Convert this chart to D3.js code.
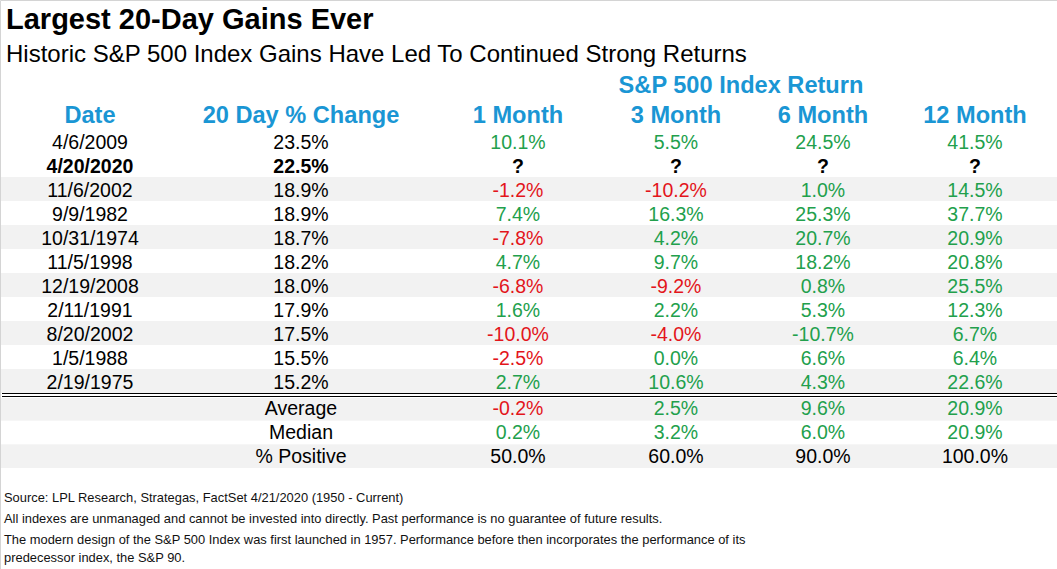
<!DOCTYPE html>
<html>
<head>
<meta charset="utf-8">
<script src="https://cdn.jsdelivr.net/npm/d3@7"></script>
<style>
  html, body { margin: 0; padding: 0; background: #fff; }
  svg { display: block; font-family: "Liberation Sans", Arial, sans-serif; }
</style>
</head>
<body>
<div id="chart"></div>
<script>
var dates    = ['4/6/2009', '4/20/2020', '11/6/2002', '9/9/1982', '10/31/1974', '11/5/1998',
                '12/19/2008', '2/11/1991', '8/20/2002', '1/5/1988', '2/19/1975'];
var change20 = [23.5, 22.5, 18.9, 18.9, 18.7, 18.2, 18.0, 17.9, 17.5, 15.5, 15.2];
var ret1m    = [10.1, null, -1.2, 7.4, -7.8, 4.7, -6.8, 1.6, -10.0, -2.5, 2.7];
var ret3m    = [5.5, null, -10.2, 16.3, 4.2, 9.7, -9.2, 2.2, -4.0, 0.0, 10.6];
var ret6m    = [24.5, null, 1.0, 25.3, 20.7, 18.2, 0.8, 5.3, -10.7, 6.6, 4.3];
var ret12m   = [41.5, null, 14.5, 37.7, 20.9, 20.8, 25.5, 12.3, 6.7, 6.4, 22.6];

var periods       = ['1 Month', '3 Month', '6 Month', '12 Month'];
var summaryLabels = ['Average', 'Median', '% Positive'];
var average       = [-0.2, 2.5, 9.6, 20.9];
var median        = [0.2, 3.2, 6.0, 20.9];
var pctPositive   = [50.0, 60.0, 90.0, 100.0];

var currentRow = 1;   // 4/20/2020, still open
// the source prints this one negative cell in green
var greenCells = [[8, '6 Month']];

var chart = {
  width: 1057,
  height: 569,
  colors: { blue: '#1a96d4', green: '#22a04c', red: '#e3151b', text: '#000', shade: '#f2f2f2', frame: '#d4d4d4' },

  display: function() {
    this.createSvg();
    this.createScales();
    this.createTitles();
    this.createRows();
    this.createSummary();
    this.createNotes();
  },

  createSvg: function() {
    this.svg = d3.select('#chart').append('svg')
                 .attr('width', this.width)
                 .attr('height', this.height);

    this.svg.append('rect').attr('width', this.width).attr('height', this.height).attr('fill', '#fff');
  },

  createScales: function() {
    var cols = ['Date', '20 Day % Change'].concat(periods);
    this.x = d3.scaleOrdinal().domain(cols).range([90, 301, 518, 676, 823, 975]);
    this.y = d3.scaleBand().domain(d3.range(dates.length)).range([129, 393]);
    this.ys = d3.scaleBand().domain(d3.range(summaryLabels.length)).range([397, 468]);
    this.cols = cols;
  },

  fmt: function(v) { return v.toFixed(1) + '%'; },

  colorFor: function(v, row, col) {
    var forced = greenCells.some(function(c) { return c[0] === row && c[1] === col; });
    return (v >= 0 || forced) ? this.colors.green : this.colors.red;
  },

  createTitles: function() {
    this.svg.append('text').attr('x', 6).attr('y', 29)
            .attr('font-size', 29).attr('font-weight', 'bold')
            .text('Largest 20-Day Gains Ever');

    this.svg.append('text').attr('x', 6).attr('y', 62)
            .attr('font-size', 24)
            .text('Historic S&P 500 Index Gains Have Led To Continued Strong Returns');

    this.svg.append('text').attr('x', 741).attr('y', 93)
            .attr('text-anchor', 'middle').attr('font-size', 23.6).attr('font-weight', 'bold')
            .attr('fill', this.colors.blue)
            .text('S&P 500 Index Return');

    this.svg.append('g').selectAll('text')
            .data(this.cols)
            .enter().append('text')
            .attr('x', (d) => this.x(d))
            .attr('y', 123)
            .attr('text-anchor', 'middle').attr('font-size', 23.6).attr('font-weight', 'bold')
            .attr('fill', this.colors.blue)
            .text((d) => d);
  },

  createRows: function() {
    var series = [ret1m, ret3m, ret6m, ret12m],
        step = this.y.bandwidth(),
        g = this.svg.append('g');

    g.selectAll('rect')
     .data(d3.range(dates.length).filter((i) => i > 0 && i % 2 === 0))
     .enter().append('rect')
     .attr('x', 1).attr('width', this.width - 1)
     .attr('y', (i) => this.y(i)).attr('height', step)
     .attr('fill', this.colors.shade);

    var rows = g.selectAll('g.row')
                .data(dates.map((d, i) => ({ i: i, date: d, change: change20[i], rets: series.map((s) => s[i]) })))
                .enter().append('g')
                .attr('class', 'row')
                .attr('transform', (d) => 'translate(0,' + (this.y(d.i) + step - 4) + ')')
                .attr('font-size', 19.5)
                .attr('font-weight', (d) => d.i === currentRow ? 'bold' : 'normal')
                .attr('text-anchor', 'middle');

    rows.append('text').attr('x', this.x('Date')).text((d) => d.date);
    rows.append('text').attr('x', this.x('20 Day % Change')).text((d) => this.fmt(d.change));

    periods.forEach((p, k) => {
      rows.append('text')
          .attr('x', this.x(p))
          .attr('fill', (d) => d.rets[k] === null ? this.colors.text : this.colorFor(d.rets[k], d.i, p))
          .text((d) => d.rets[k] === null ? '?' : this.fmt(d.rets[k]));
    });

    // double rule under the last event
    [393.5, 396.5].forEach((yy) => {
      g.append('line').attr('x1', 2).attr('x2', this.width)
       .attr('y1', yy).attr('y2', yy)
       .attr('stroke', '#000').attr('stroke-width', 1.2);
    });
  },

  createSummary: function() {
    var stats = [average, median, pctPositive],
        step = this.ys.bandwidth(),
        g = this.svg.append('g');

    g.selectAll('rect')
     .data([0, 2])
     .enter().append('rect')
     .attr('x', 1).attr('width', this.width - 1)
     .attr('y', (i) => this.ys(i) + (i === 0 ? 1 : 0))
     .attr('height', (i) => step - (i === 0 ? 1 : 0))
     .attr('fill', this.colors.shade);

    var rows = g.selectAll('g.stat')
                .data(summaryLabels.map((l, j) => ({ j: j, label: l, vals: stats[j] })))
                .enter().append('g')
                .attr('class', 'stat')
                .attr('transform', (d) => 'translate(0,' + (this.ys(d.j) + step - 5.5) + ')')
                .attr('font-size', 19.5)
                .attr('text-anchor', 'middle');

    rows.append('text').attr('x', this.x('20 Day % Change')).text((d) => d.label);

    periods.forEach((p, k) => {
      rows.append('text')
          .attr('x', this.x(p))
          .attr('fill', (d) => d.j === 2 ? this.colors.text : this.colorFor(d.vals[k], -1, p))
          .text((d) => this.fmt(d.vals[k]));
    });
  },

  createNotes: function() {
    var notes = [
      ['Source: LPL Research, Strategas, FactSet 4/21/2020 (1950 - Current)', 502],
      ['All indexes are unmanaged and cannot be invested into directly. Past performance is no guarantee of future results.', 523],
      ['The modern design of the S&P 500 Index was first launched in 1957. Performance before then incorporates the performance of its', 544],
      ['predecessor index, the S&P 90.', 562]
    ];

    this.svg.append('g').selectAll('text')
            .data(notes)
            .enter().append('text')
            .attr('x', 4).attr('y', (d) => d[1])
            .attr('font-size', 12.9).attr('fill', '#111')
            .text((d) => d[0]);

    // light frame along top and left edge
    this.svg.append('path')
            .attr('d', 'M0.5,' + this.height + 'V0.5H' + this.width)
            .attr('fill', 'none').attr('stroke', this.colors.frame);
  }
};

chart.display();
</script>
</body>
</html>
